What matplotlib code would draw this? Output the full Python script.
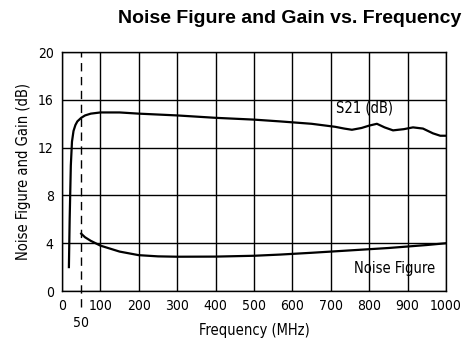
import numpy as np
import matplotlib.pyplot as plt

# data
s21_freq = [18, 20, 23, 26, 30, 35, 40, 50, 60, 75, 100, 150, 200, 300, 400, 500, 568, 650, 711, 735, 755, 780, 800, 820, 840, 862, 890, 914, 940, 966, 985, 1000]
s21_gain = [2.0, 6.0, 10.5, 12.5, 13.4, 13.9, 14.2, 14.5, 14.7, 14.85, 14.95, 14.95, 14.85, 14.7, 14.5, 14.35, 14.2, 14.0, 13.75, 13.6, 13.5, 13.65, 13.85, 14.0, 13.7, 13.45, 13.55, 13.7, 13.6, 13.2, 13.0, 13.0]

nf_freq = [50, 60, 75, 100, 150, 200, 250, 300, 400, 500, 568, 650, 750, 850, 950, 1000]
nf_val = [4.8, 4.5, 4.2, 3.8, 3.3, 3.0, 2.9, 2.87, 2.88, 2.95, 3.05, 3.2, 3.4, 3.6, 3.85, 4.0]

xticks = [0, 100, 200, 300, 400, 500, 600, 700, 800, 900, 1000]
yticks = [0, 4, 8, 12, 16, 20]

plt.rcParams['font.family'] = ['DejaVu Sans']
plt.rcParams['font.stretch'] = 'condensed'

fig = plt.figure(figsize=(4.75, 3.43), dpi=100)
ax = fig.add_axes([0.1305, 0.1516, 0.8085, 0.6964])

ax.plot(s21_freq, s21_gain, color='black', lw=1.6)
ax.plot(nf_freq, nf_val, color='black', lw=1.6)
ax.plot([50, 50], [-1.3, 20], color='black', lw=1, ls=(0, (6, 4)), clip_on=False)

ax.set_xlim(0, 1000)
ax.set_ylim(0, 20)
ax.set_xticks(xticks)
ax.set_yticks(yticks)
ax.tick_params(length=0, labelsize=10, pad=6)
ax.grid(True, color='black', lw=1)
for s in ax.spines.values():
    s.set_linewidth(1)

ax.text(50, -2.1, '50', ha='center', va='top', fontsize=10)
ax.text(789, 15.3, 'S21 (dB)', ha='center', va='center', fontsize=10.5)
ax.text(867, 1.9, 'Noise Figure', ha='center', va='center', fontsize=10.5)

ax.set_xlabel('Frequency (MHz)', fontsize=10.5, labelpad=7)
ax.set_ylabel('Noise Figure and Gain (dB)', fontsize=10.5, labelpad=5)
fig.text(0.61, 0.945, 'Noise Figure and Gain vs. Frequency', ha='center', va='center',
         fontsize=14, fontweight='bold', family='Liberation Sans', stretch='normal')

fig.savefig('out.png', dpi=100)
